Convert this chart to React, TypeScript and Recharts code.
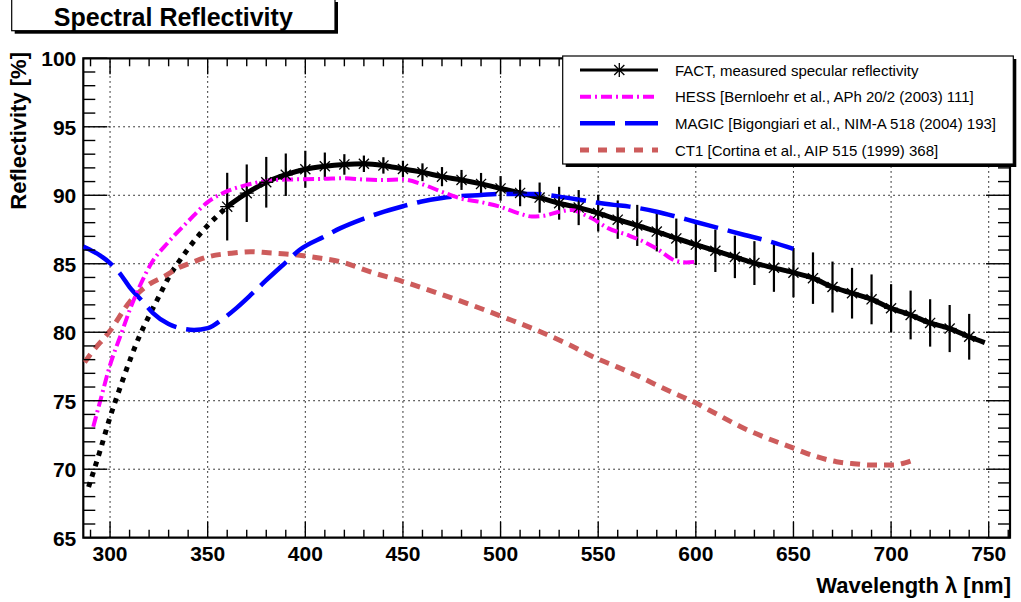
import React from 'react';
import {
  ComposedChart, Line, Scatter, XAxis, YAxis, ErrorBar, ReferenceLine, ReferenceArea,
} from 'recharts';

// ---------- data ----------
const factNm = [360, 370, 380, 390, 400, 410, 420, 430, 440, 450, 460, 470, 480, 490, 500, 510, 520, 530, 540, 550, 560, 570, 580, 590, 600, 610, 620, 630, 640, 650, 660, 670, 680, 690, 700, 710, 720, 730, 740];
const factVal = [89.17, 90.15, 90.95, 91.5, 91.9, 92.12, 92.25, 92.3, 92.18, 91.92, 91.68, 91.36, 91.12, 90.83, 90.5, 90.17, 89.83, 89.42, 89.1, 88.7, 88.22, 87.8, 87.35, 86.85, 86.4, 85.95, 85.5, 85.05, 84.7, 84.35, 83.95, 83.3, 82.85, 82.4, 81.75, 81.26, 80.68, 80.27, 79.67];
const factErr = [2.47, 2.1, 1.85, 1.55, 1.35, 1.0, 0.75, 0.6, 0.6, 0.6, 0.65, 0.7, 0.73, 0.8, 0.9, 0.97, 1.1, 1.2, 1.28, 1.34, 1.4, 1.5, 1.45, 1.45, 1.5, 1.55, 1.55, 1.6, 1.75, 1.8, 1.88, 1.86, 1.85, 1.82, 1.76, 1.78, 1.73, 1.72, 1.67];
const factFitEndNm = 748;
const factFitEndVal = 79.24;

const extrapNm = [289, 295, 300, 305, 310, 315, 320, 325, 330, 335, 340, 345, 350, 355, 360];
const extrapVal = [68.7, 71.4, 73.8, 75.9, 77.9, 79.7, 81.2, 82.6, 84.0, 85.1, 86.1, 87.0, 87.8, 88.5, 89.17];

const hessNm = [291.4, 295, 300, 306, 310, 315, 321, 330, 340, 350, 360, 370, 380, 390, 400, 410, 420, 430, 440, 450, 460, 470, 480, 490, 500, 510, 516, 522, 530, 537, 541, 547, 555, 565, 572, 580, 590, 595, 600];
const hessVal = [73.1, 75.0, 77.6, 80.0, 81.6, 83.3, 85.0, 86.6, 88.1, 89.5, 90.3, 90.75, 91.05, 91.15, 91.17, 91.2, 91.24, 91.15, 91.12, 91.15, 90.8, 90.25, 89.75, 89.5, 89.15, 88.65, 88.45, 88.5, 88.8, 88.93, 88.7, 88.3, 87.6, 87.1, 86.7, 86.1, 85.2, 85.1, 85.15];

const magicNm = [286.3, 290, 295, 300, 305, 310, 317, 322, 330, 336, 343, 350, 358, 365, 373, 380, 390, 397, 410, 418, 430, 438, 450, 459, 470, 476, 490, 500, 510, 517, 530, 541, 550, 558, 566, 580, 590, 600, 612, 625, 635, 650];
const magicVal = [86.25, 86.0, 85.6, 85.05, 84.3, 83.3, 82.2, 81.4, 80.6, 80.3, 80.17, 80.3, 81.0, 81.8, 82.85, 83.8, 85.1, 86.0, 87.0, 87.6, 88.3, 88.7, 89.2, 89.53, 89.8, 89.9, 90.02, 90.1, 90.1, 90.1, 89.9, 89.66, 89.45, 89.3, 89.17, 88.8, 88.44, 88.05, 87.6, 87.1, 86.74, 86.08];

const ct1Nm = [287, 290, 300, 310, 320, 328, 335, 343, 350, 362, 372, 381, 390, 398, 408, 418, 433, 450, 469, 486, 503, 521, 535, 549, 560, 571, 585, 599, 611, 623, 635, 648, 660, 672, 681, 691, 701, 710];
const ct1Val = [77.8, 78.4, 80.1, 82.2, 83.5, 84.1, 84.7, 85.15, 85.5, 85.77, 85.88, 85.8, 85.72, 85.6, 85.4, 85.15, 84.42, 83.7, 82.8, 81.94, 81.02, 80.0, 79.1, 78.1, 77.45, 76.76, 75.8, 74.9, 74.0, 73.1, 72.35, 71.65, 71.0, 70.55, 70.4, 70.3, 70.31, 70.6];

const xTicks = [290, 300, 310, 320, 330, 340, 350, 360, 370, 380, 390, 400, 410, 420, 430, 440, 450, 460, 470, 480, 490, 500, 510, 520, 530, 540, 550, 560, 570, 580, 590, 600, 610, 620, 630, 640, 650, 660, 670, 680, 690, 700, 710, 720, 730, 740, 750, 760];
const xMajor = [300, 350, 400, 450, 500, 550, 600, 650, 700, 750];
const yTicks = [65, 66, 67, 68, 69, 70, 71, 72, 73, 74, 75, 76, 77, 78, 79, 80, 81, 82, 83, 84, 85, 86, 87, 88, 89, 90, 91, 92, 93, 94, 95, 96, 97, 98, 99, 100];
const yMajor = [65, 70, 75, 80, 85, 90, 95, 100];
const yGrid = [70, 75, 80, 85, 90, 95];

const titleText = 'Spectral Reflectivity';
const xTitle = 'Wavelength λ [nm]';
const yTitle = 'Reflectivity [%]';
const legendLabels = [
  'FACT, measured specular reflectivity',
  'HESS [Bernloehr et al., APh 20/2 (2003) 111]',
  'MAGIC [Bigongiari et al., NIM-A 518 (2004) 193]',
  'CT1 [Cortina et al., AIP 515 (1999) 368]',
];

const zip = (nm: number[], v: number[]) => nm.map((n, i) => ({ nm: n, v: v[i] }));
const factPoints = factNm.map((n, i) => ({ nm: n, v: factVal[i], err: factErr[i] }));
const factLine = [...zip(factNm, factVal), { nm: factFitEndNm, v: factFitEndVal }];
const extrapData = zip(extrapNm, extrapVal);
const hessData = zip(hessNm, hessVal);
const magicData = zip(magicNm, magicVal);
const ct1Data = zip(ct1Nm, ct1Val);

// ---------- layout ----------
const W = 1021;
const H = 602;
const PT = 58.3;
const PB = 537.7;
const PL = 83.3;
const PR = 1010;
const YAXIS_W = 70;
const XAXIS_H = 30;
const M = { top: PT, left: PL - YAXIS_W, right: W - PR, bottom: H - PB - XAXIS_H };
const FONT = '"Liberation Sans", Arial, Helvetica, sans-serif';

const HESS_C = '#ff00ff';
const MAGIC_C = '#0000ff';
const CT1_C = '#cd5c5c';

const Star = ({ cx, cy, r = 7 }: { cx: number; cy: number; r?: number }) => {
  const d = r * 0.72;
  return (
    <g stroke="#000" strokeWidth={1.3}>
      <line x1={cx} y1={cy - r} x2={cx} y2={cy + r} />
      <line x1={cx - r} y1={cy} x2={cx + r} y2={cy} />
      <line x1={cx - d} y1={cy - d} x2={cx + d} y2={cy + d} />
      <line x1={cx - d} y1={cy + d} x2={cx + d} y2={cy - d} />
    </g>
  );
};

const renderXTick = (props: any) => {
  const { x, payload } = props;
  const major = xMajor.includes(payload.value);
  const len = major ? 16 : 8;
  return (
    <g>
      <line x1={x} x2={x} y1={PB} y2={PB - len} stroke="#000" strokeWidth={1.4} />
      <line x1={x} x2={x} y1={PT} y2={PT + len} stroke="#000" strokeWidth={1.4} />
      {major && (
        <text x={x} y={PB + 23} textAnchor="middle" fontFamily={FONT} fontWeight="bold" fontSize={21} fill="#000">
          {payload.value}
        </text>
      )}
    </g>
  );
};

const renderYTick = (props: any) => {
  const { y, payload } = props;
  const major = yMajor.includes(payload.value);
  const len = major ? 24 : 12;
  return (
    <g>
      <line x1={PL} x2={PL + len} y1={y} y2={y} stroke="#000" strokeWidth={1.4} />
      <line x1={PR} x2={PR - len} y1={y} y2={y} stroke="#000" strokeWidth={1.4} />
      {major && (
        <text x={PL - 7} y={y + 8} textAnchor="end" fontFamily={FONT} fontWeight="bold" fontSize={21} fill="#000">
          {payload.value}
        </text>
      )}
    </g>
  );
};

const legendRows = [
  { stroke: '#000', width: 3, dash: undefined as string | undefined, star: true },
  { stroke: HESS_C, width: 4, dash: '11 4 2 4', star: false },
  { stroke: MAGIC_C, width: 4.5, dash: '35 10', star: false },
  { stroke: CT1_C, width: 5, dash: '9 9', star: false },
];

const Overlay = () => {
  const lx = 562.7, ly = 56, lw = 450.6, lh = 108;
  const rowY = [70, 96.7, 123.3, 150];
  return (
    <svg width={W} height={H} style={{ position: 'absolute', left: 0, top: 0, pointerEvents: 'none' }}>
      <rect x={14.7} y={2} width={323.3} height={31.7} fill="#000" />
      <rect x={11.7} y={-2} width={323.3} height={32.7} fill="#fff" stroke="#000" strokeWidth={1.2} />
      <text x={173.3} y={25.5} textAnchor="middle" fontFamily={FONT} fontWeight="bold" fontSize={25} fill="#000">
        {titleText}
      </text>
      <rect x={lx + 3} y={ly + 3} width={lw} height={lh} fill="#000" />
      <rect x={lx} y={ly} width={lw} height={lh} fill="#fff" stroke="#000" strokeWidth={1.2} />
      {legendRows.map((r, i) => (
        <g key={i}>
          <line x1={580} x2={658} y1={rowY[i]} y2={rowY[i]} stroke={r.stroke} strokeWidth={r.width} strokeDasharray={r.dash} />
          {r.star && <Star cx={619.3} cy={rowY[i]} />}
          <text x={675} y={rowY[i] + 5.5} fontFamily={FONT} fontSize={15} fill="#000">
            {legendLabels[i]}
          </text>
        </g>
      ))}
      <text x={1011} y={593} textAnchor="end" fontFamily={FONT} fontWeight="bold" fontSize={22} fill="#000">
        {xTitle}
      </text>
      <text transform="rotate(-90)" x={-52} y={26} textAnchor="end" fontFamily={FONT} fontWeight="bold" fontSize={22} fill="#000">
        {yTitle}
      </text>
    </svg>
  );
};

export default function App() {
  return (
    <div style={{ position: 'absolute', left: 0, top: 0, width: W, height: H, background: '#fff' }}>
      <ComposedChart width={W} height={H} margin={M} style={{ background: '#fff' }}>
        <XAxis
          dataKey="nm"
          type="number"
          domain={[286.3, 760.9]}
          allowDataOverflow
          ticks={xTicks}
          interval={0}
          height={XAXIS_H}
          axisLine={false}
          tickLine={false}
          tick={renderXTick}
        />
        <YAxis
          type="number"
          domain={[65, 100]}
          allowDataOverflow
          ticks={yTicks}
          interval={0}
          width={YAXIS_W}
          axisLine={false}
          tickLine={false}
          tick={renderYTick}
        />
        {xMajor.map((v) => (
          <ReferenceLine key={'gx' + v} x={v} stroke="#000" strokeWidth={1} strokeDasharray="1.5 3.5" />
        ))}
        {yGrid.map((v) => (
          <ReferenceLine key={'gy' + v} y={v} stroke="#000" strokeWidth={1} strokeDasharray="1.5 3.5" />
        ))}
        <Line data={extrapData} dataKey="v" type="monotone" stroke="#000" strokeWidth={5} strokeDasharray="5 6" dot={false} isAnimationActive={false} />
        <Line data={factLine} dataKey="v" type="monotone" stroke="#000" strokeWidth={5} dot={false} isAnimationActive={false} />
        <Scatter
          data={factPoints}
          dataKey="v"
          isAnimationActive={false}
          shape={(p: any) => <Star cx={p.cx} cy={p.cy} />}
        >
          <ErrorBar dataKey="err" direction="y" width={0} stroke="#000" strokeWidth={2.2} isAnimationActive={false} />
        </Scatter>
        <Line data={ct1Data} dataKey="v" type="monotone" stroke={CT1_C} strokeWidth={5} strokeDasharray="10 7" dot={false} isAnimationActive={false} />
        <Line data={magicData} dataKey="v" type="monotone" stroke={MAGIC_C} strokeWidth={4.5} strokeDasharray="35 10" dot={false} isAnimationActive={false} />
        <Line data={hessData} dataKey="v" type="monotone" stroke={HESS_C} strokeWidth={4} strokeDasharray="11 4 2 4" dot={false} isAnimationActive={false} />
        <ReferenceArea x1={286.3} x2={760.9} y1={65} y2={100} fill="none" stroke="#000" strokeWidth={2.2} ifOverflow="visible" />
      </ComposedChart>
      <Overlay />
    </div>
  );
}
